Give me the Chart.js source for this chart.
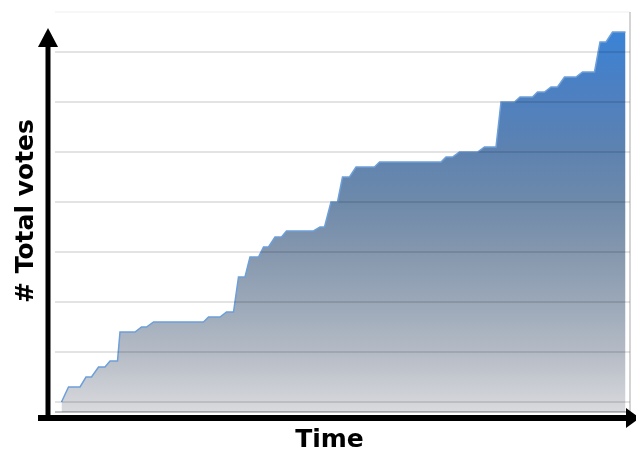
<!DOCTYPE html>
<html>
<head>
<meta charset="utf-8">
<style>
html,body{margin:0;padding:0;background:#fff;}
#wrap{width:636px;height:450px;position:relative;}
</style>
<script src="https://cdn.jsdelivr.net/npm/chart.js@4/dist/chart.umd.min.js"></script>
</head>
<body>
<div id="wrap"><canvas id="c" width="636" height="450"></canvas></div>
<script>
// time units (arbitrary) and cumulative vote totals
const timeValues = [1.3, 2.7, 5, 6.2, 7.3, 8.7, 10, 11, 12.5, 13, 16, 17.3, 18.3, 19.7, 29.7, 30.7, 33, 34.3, 35.7, 36.7, 38, 39, 40.7, 41.7, 42.7, 44, 45.3, 46.3, 51.7, 53, 53.9, 55.2, 56.5, 57.5, 58.9, 60.2, 63.9, 64.9, 77.2, 78.2, 79.5, 80.9, 84.5, 85.9, 88.2, 89.2, 91.9, 93, 95.5, 96.5, 97.9, 99.2, 100.5, 101.9, 104.2, 105.5, 107.9, 109, 110.2, 111.5, 114.1];
const voteValues = [0, 3, 3, 5, 5, 7, 7, 8.2, 8.2, 14, 14, 15, 15, 16, 16, 17, 17, 18, 18, 25, 25, 29, 29, 31, 31, 33, 33, 34.2, 34.2, 35, 35, 40, 40, 45, 45, 47, 47, 48, 48, 49, 49, 50, 50, 51, 51, 60, 60, 61, 61, 62, 62, 63, 63, 65, 65, 66, 66, 72, 72, 74, 74];
const gridValues = [-2, 0, 10, 20, 30, 40, 50, 60, 70, 78];
const xTitle = 'Time';
const yTitle = '# Total votes';

const points = timeValues.map((t, i) => ({x: t, y: voteValues[i]}));

const arrowPlugin = {
  id: 'arrows',
  afterDraw(chart) {
    const ctx = chart.ctx;
    const xs = chart.scales.x, ys = chart.scales.y;
    const axX = xs.left - 7;
    const axY = ys.bottom + 6;
    ctx.save();
    ctx.fillStyle = '#000';
    ctx.strokeStyle = '#000';
    // vertical axis
    ctx.lineWidth = 5;
    ctx.beginPath();
    ctx.moveTo(axX, axY + 3);
    ctx.lineTo(axX, 44);
    ctx.stroke();
    ctx.beginPath();
    ctx.moveTo(axX, 28);
    ctx.lineTo(axX - 10, 47);
    ctx.lineTo(axX + 10, 47);
    ctx.closePath();
    ctx.fill();
    // horizontal axis
    ctx.lineWidth = 6;
    ctx.beginPath();
    ctx.moveTo(axX - 10, axY);
    ctx.lineTo(628, axY);
    ctx.stroke();
    ctx.beginPath();
    ctx.moveTo(640, axY);
    ctx.lineTo(626, axY - 10);
    ctx.lineTo(626, axY + 10);
    ctx.closePath();
    ctx.fill();
    // axis titles
    ctx.font = 'bold 25px "DejaVu Sans"';
    ctx.textAlign = 'center';
    ctx.textBaseline = 'alphabetic';
    ctx.fillText(xTitle, 329.5, 447);
    ctx.translate(33, 211);
    ctx.rotate(-Math.PI / 2);
    ctx.fillText(yTitle, 0, 0);
    ctx.restore();
  }
};

new Chart(document.getElementById('c'), {
  type: 'line',
  data: {
    datasets: [{
      data: points,
      borderColor: '#6d9fd8',
      borderWidth: 1.5,
      pointRadius: 0,
      tension: 0,
      fill: 'start',
      backgroundColor: (ctx) => {
        const ca = ctx.chart.chartArea;
        if (!ca) return '#aab';
        const g = ctx.chart.ctx.createLinearGradient(0, 32, 0, ca.bottom);
        g.addColorStop(0, '#3a83d6');
        g.addColorStop(0.13, '#4a80c4');
        g.addColorStop(0.31, '#5d82b0');
        g.addColorStop(0.45, '#6e8aaa');
        g.addColorStop(0.58, '#8597ae');
        g.addColorStop(0.72, '#9ca9b9');
        g.addColorStop(0.85, '#b6bcc6');
        g.addColorStop(1, '#d9dadd');
        return g;
      }
    }]
  },
  options: {
    responsive: false,
    animation: false,
    layout: {padding: {left: 55, right: 6, top: 12, bottom: 38}},
    plugins: {legend: {display: false}, tooltip: {enabled: false}},
    scales: {
      x: {
        type: 'linear',
        min: 0,
        max: 115,
        border: {display: false},
        ticks: {display: false, stepSize: 115},
        grid: {
          drawTicks: false,
          color: (c) => c.tick && c.tick.value === 115 ? '#d4d4d4' : 'rgba(0,0,0,0)',
          lineWidth: 2
        },
        title: {display: false}
      },
      y: {
        min: -2,
        max: 78,
        border: {display: false},
        ticks: {display: false},
        afterBuildTicks: (scale) => { scale.ticks = gridValues.map(v => ({value: v})); },
        grid: {
          drawTicks: false,
          z: 1,
          color: (c) => {
            const v = c.tick ? c.tick.value : 0;
            if (v === 78) return 'rgba(0,0,0,0.03)';
            if (v === -2) return 'rgba(0,0,0,0.25)';
            return 'rgba(0,0,0,0.11)';
          },
          lineWidth: 2
        },
        title: {display: false}
      }
    }
  },
  plugins: [arrowPlugin]
});
</script>
</body>
</html>
